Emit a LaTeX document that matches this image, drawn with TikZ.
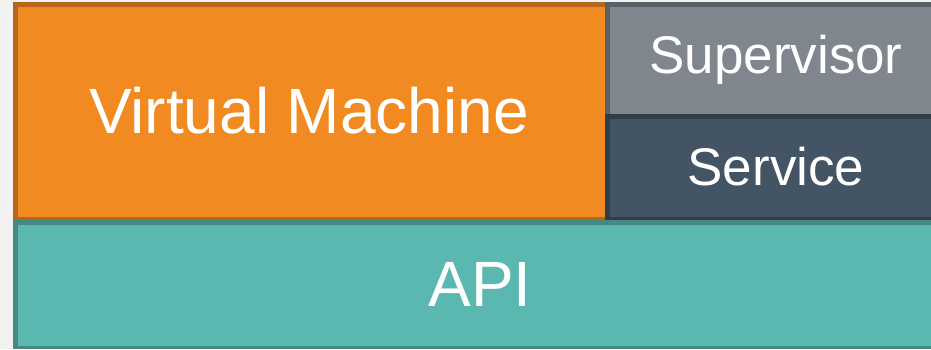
\documentclass[tikz,border=0pt]{standalone}
\usepackage{fontspec}
\setmainfont{Liberation Sans}
\definecolor{bgc}{HTML}{F2F2F2}
\definecolor{orfill}{HTML}{F18A21}
\definecolor{ordraw}{HTML}{B5661B}
\definecolor{supfill}{HTML}{7F868D}
\definecolor{supdraw}{HTML}{596066}
\definecolor{serfill}{HTML}{435464}
\definecolor{serdraw}{HTML}{2F3D4A}
\definecolor{apifill}{HTML}{5BB8B1}
\definecolor{apidraw}{HTML}{448A83}
\tikzset{
  layer/.style={rectangle, inner sep=0pt, outer sep=0pt, text=white, anchor=north west},
  bigtxt/.style={font=\fontsize{64}{64}\selectfont},
  smalltxt/.style={font=\fontsize{53}{53}\selectfont},
}
\newcommand\layerborders[2]{%
  \fill[#2] (#1.north west) rectangle ([xshift=5pt]#1.south west);
  \fill[#2] (#1.north west) rectangle ([yshift=-5pt]#1.north east);
  \fill[#2] (#1.south west) rectangle ([yshift=3.5pt]#1.south east);
}
\newcommand\lowtxt[1]{\raisebox{-5pt}{#1}}
\begin{document}
\begin{tikzpicture}[x=1pt,y=-1pt]
\useasboundingbox (0,0) rectangle (931,349);
\fill[bgc] (0,0) rectangle (931,349);
\clip (0,0) rectangle (931,349);
\node[layer, bigtxt, fill=orfill, minimum width=592pt, minimum height=218pt] (vm) at (13,2) {\lowtxt{Virtual Machine}};
\layerborders{vm}{ordraw}
\node[layer, smalltxt, fill=supfill, minimum width=342pt, minimum height=115pt] (sup) at (605,2) {\lowtxt{Supervisor}};
\layerborders{sup}{supdraw}
\node[layer, smalltxt, fill=serfill, minimum width=342pt, minimum height=106pt] (ser) at (605,114) {\lowtxt{Service}};
\layerborders{ser}{serdraw}
\node[layer, bigtxt, fill=apifill, minimum width=934pt, minimum height=129pt] (api) at (13,220) {\lowtxt{API}};
\layerborders{api}{apidraw}
\end{tikzpicture}
\end{document}
